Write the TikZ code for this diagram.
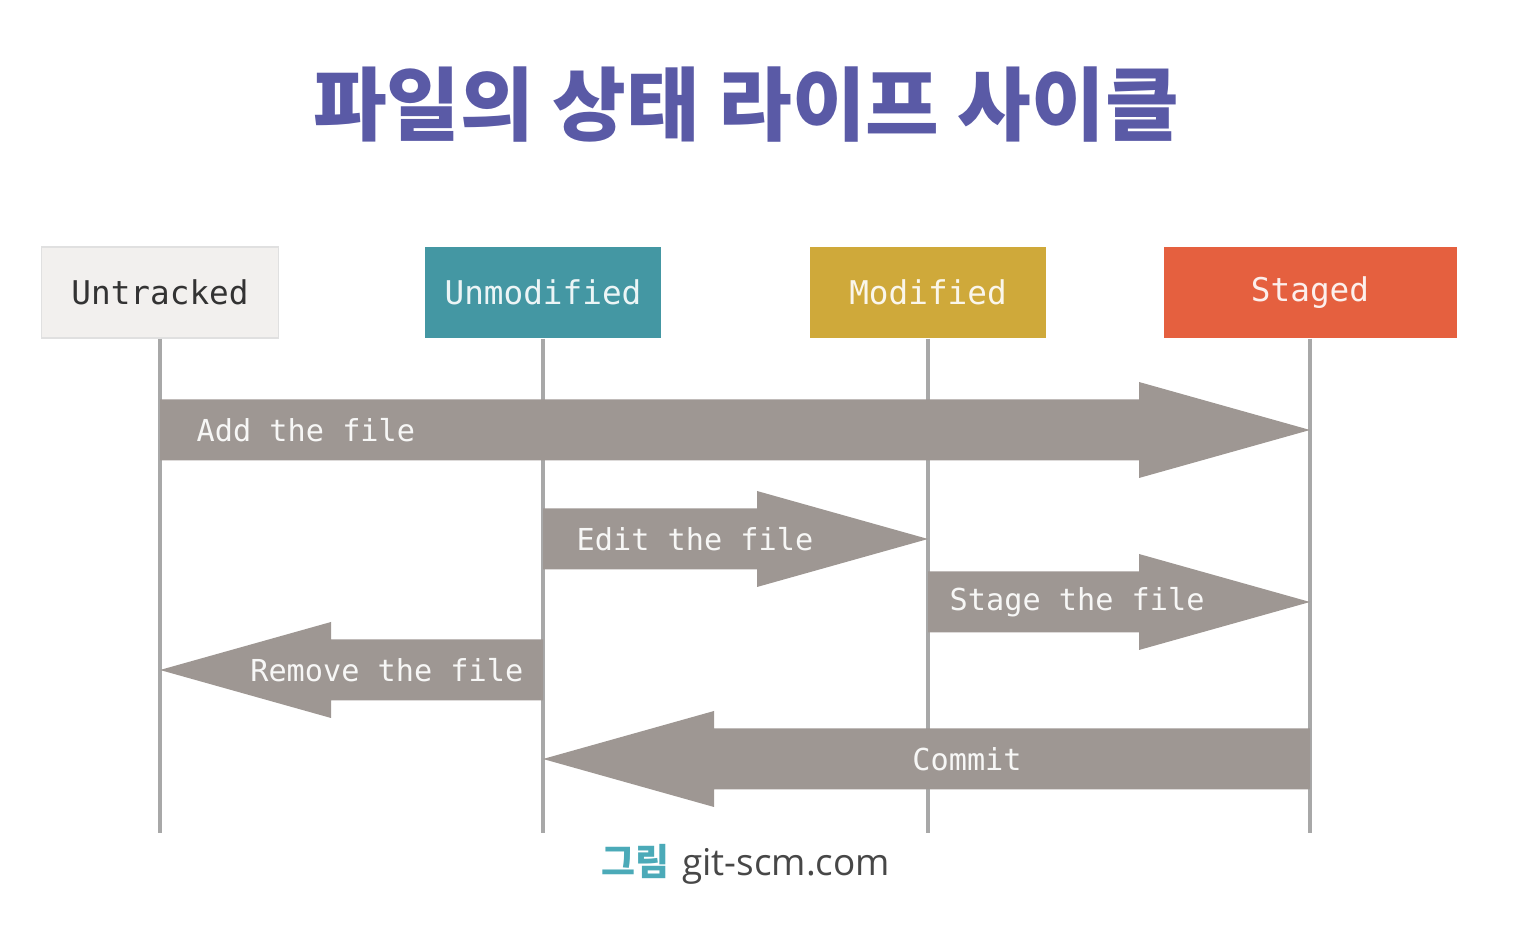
\documentclass[tikz,border=0pt]{standalone}
\usepackage{fontspec}
\setmonofont{DejaVu Sans Mono}
\newfontfamily\krfont{Noto Sans CJK KR}
\newfontfamily\capfont{Open Sans}
\usetikzlibrary{positioning,calc}

\definecolor{titleblue}{HTML}{5A5AA6}
\definecolor{untrfill}{HTML}{F2F0EE}
\definecolor{unmodfill}{HTML}{4497A3}
\definecolor{modfill}{HTML}{CFA93A}
\definecolor{stagfill}{HTML}{E5603F}
\definecolor{flowgray}{HTML}{9E9793}
\definecolor{lifegray}{HTML}{A8A8A8}
\definecolor{captealblue}{HTML}{4BAAB8}

% block arrow pointing right: tail #1, tip #2
\newcommand{\rightflow}[2]{%
  \fill[flow] ($(#1)+(0,0.305)$) -- ($(#2)+(-1.71,0.305)$) -- ($(#2)+(-1.71,0.48)$) -- (#2)
    -- ($(#2)+(-1.71,-0.48)$) -- ($(#2)+(-1.71,-0.305)$) -- ($(#1)+(0,-0.305)$) -- cycle;}
% block arrow pointing left: tail #1, tip #2
\newcommand{\leftflow}[2]{%
  \fill[flow] ($(#1)+(0,0.305)$) -- ($(#2)+(1.71,0.305)$) -- ($(#2)+(1.71,0.48)$) -- (#2)
    -- ($(#2)+(1.71,-0.48)$) -- ($(#2)+(1.71,-0.305)$) -- ($(#1)+(0,-0.305)$) -- cycle;}

\begin{document}
\begin{tikzpicture}[
    state/.style={minimum height=0.91cm,inner sep=0pt,font=\ttfamily\fontsize{9.3}{11}\selectfont},
    flow/.style={fill=flowgray},
    flowlabel/.style={inner sep=0pt,text=white!92!flowgray,font=\ttfamily\fontsize{8.6}{10}\selectfont},
    life/.style={draw=lifegray,line width=1.1pt}
]
\useasboundingbox (0,0) rectangle (15.36,9.5);

\node[font=\krfont\bfseries\fontsize{22.8}{25}\selectfont,text=titleblue] (title) at (7.46,8.45) {파일의 상태 라이프 사이클};

\node[state,fill=untrfill,draw=black!12,minimum width=2.37cm,text=black!80] (untr) at (1.60,6.575) {Untracked};
\node[state,fill=unmodfill,minimum width=2.36cm,text=white!90!unmodfill] (unmod) at (5.43,6.575) {Unmodified};
\node[state,fill=modfill,minimum width=2.36cm,text=white!90!modfill] (mod) at (9.28,6.575) {Modified};
\node[state,fill=stagfill,minimum width=2.93cm,text=white!90!stagfill] (stag) at (13.10,6.575) {Staged};

% lifelines
\coordinate (untr-end) at (untr.south |- 0,1.17);
\coordinate (unmod-end) at (unmod.south |- 0,1.17);
\coordinate (mod-end) at (mod.south |- 0,1.17);
\coordinate (stag-end) at (stag.south |- 0,1.17);
\draw[life] (untr.south) -- (untr-end);
\draw[life] (unmod.south) -- (unmod-end);
\draw[life] (mod.south) -- (mod-end);
\draw[life] (stag.south) -- (stag-end);

\coordinate (add-from) at (untr.south |- 0,5.20);
\coordinate (add-to) at (stag.south |- 0,5.20);
\coordinate (edit-from) at (unmod.south |- 0,4.11);
\coordinate (edit-to) at (mod.south |- 0,4.11);
\coordinate (stage-from) at (mod.south |- 0,3.48);
\coordinate (stage-to) at (stag.south |- 0,3.48);
\coordinate (rm-from) at (unmod.south |- 0,2.80);
\coordinate (rm-to) at (untr.south |- 0,2.80);
\coordinate (ci-from) at (stag.south |- 0,1.91);
\coordinate (ci-to) at (unmod.south |- 0,1.91);

\rightflow{add-from}{add-to}
\rightflow{edit-from}{edit-to}
\rightflow{stage-from}{stage-to}
\leftflow{rm-from}{rm-to}
\leftflow{ci-from}{ci-to}

\node[flowlabel,anchor=west] (addlbl) at ($(add-from)+(0.36,0)$) {Add the file};
\node[flowlabel,anchor=west] (editlbl) at ($(edit-from)+(0.33,0)$) {Edit the file};
\node[flowlabel,anchor=west] (stagelbl) at ($(stage-from)+(0.21,0)$) {Stage the file};
\node[flowlabel,anchor=east] (rmlbl) at ($(rm-from)+(-0.19,0)$) {Remove the file};
\node[flowlabel] (cilbl) at ($(mod.south |- ci-from)+(0.39,0)$) {Commit};

\node[font=\fontsize{10.5}{12}\selectfont,text=black!72] (credit) at (7.46,0.86)
    {{\krfont\bfseries\color{captealblue}그림} \capfont git-scm.com};

\end{tikzpicture}
\end{document}
